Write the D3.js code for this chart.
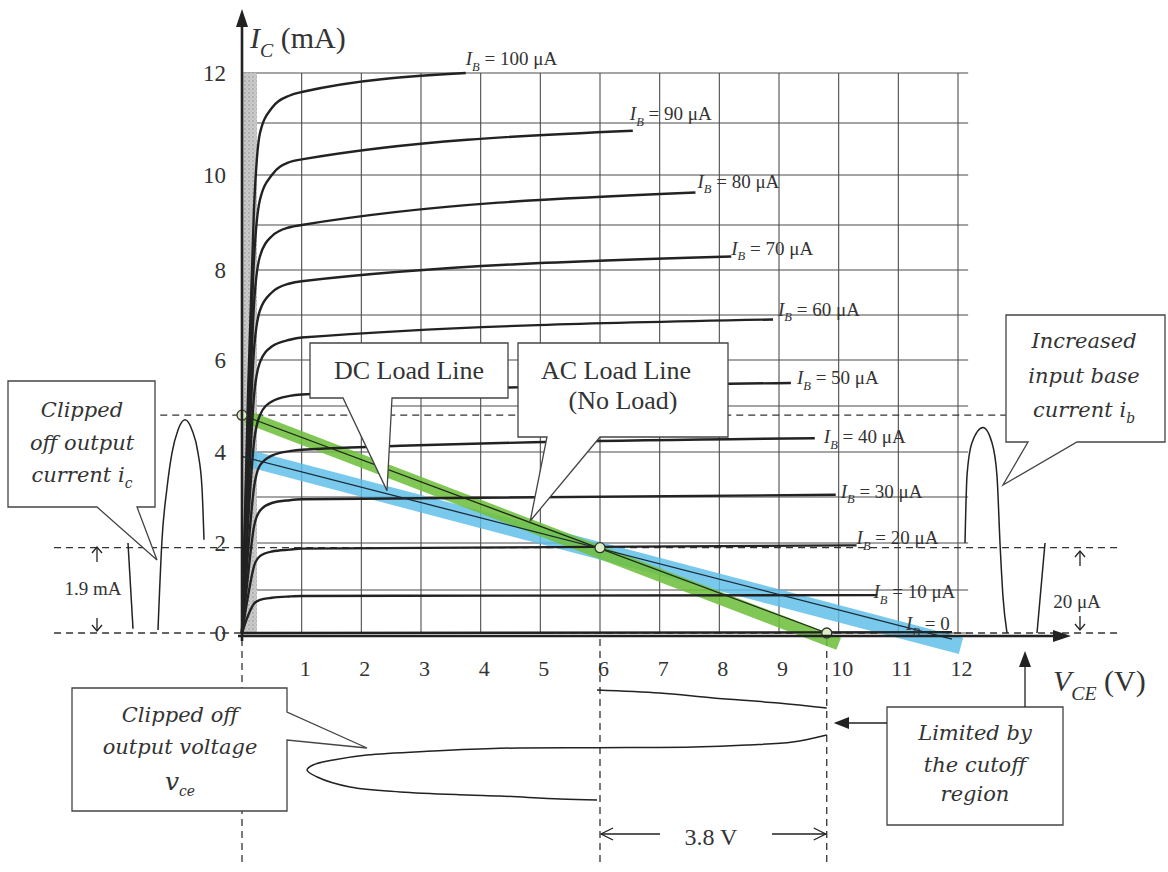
<!DOCTYPE html>
<html>
<head>
<meta charset="utf-8">
<script src="https://cdn.jsdelivr.net/npm/d3@7/dist/d3.min.js"></script>
<style>
  html, body { margin: 0; padding: 0; background: #ffffff; }
  svg { display: block; }
</style>
</head>
<body>
<svg id="chart" width="1168" height="872"></svg>
<script>
// ===== DATA =====
const vceTicks = [1,2,3,4,5,6,7,8,9,10,11,12];
const icTicks  = [0,2,4,6,8,10,12];
const gridVce  = [0,1,2,3,4,5,6,7,8,9,10,11,12];
const gridIc   = [0,1,2,3,4,5,6,7,8,9,10,11,12];

// base-current curves, I_B in µA; points are [V_CE (V), I_C (mA)]
const ibValues = [100,90,80,70,60,50,40,30,20,10,0];
const ib100 = [[0,0],[0.1,5.2],[0.2,9.3],[0.3,10.8],[0.5,11.3],[0.8,11.55],[1,11.62],[3.75,12.0]];
const ib90  = [[0,0],[0.1,4.6],[0.2,8.2],[0.3,9.5],[0.5,10.0],[0.8,10.25],[1,10.3],[6.55,10.85]];
const ib80  = [[0,0],[0.1,4.0],[0.2,7.2],[0.3,8.3],[0.5,8.75],[0.8,8.95],[1,9.0],[7.6,9.65]];
const ib70  = [[0,0],[0.1,3.5],[0.2,6.2],[0.3,7.1],[0.5,7.5],[0.8,7.7],[1,7.75],[8.2,8.3]];
const ib60  = [[0,0],[0.1,2.9],[0.2,5.2],[0.3,5.95],[0.5,6.3],[0.8,6.45],[1,6.5],[8.9,6.9]];
const ib50  = [[0,0],[0.1,2.4],[0.2,4.2],[0.3,4.8],[0.5,5.1],[0.8,5.22],[1,5.25],[9.2,5.5]];
const ib40  = [[0,0],[0.1,1.8],[0.2,3.2],[0.3,3.7],[0.5,3.92],[0.8,4.02],[1,4.05],[9.6,4.3]];
const ib30  = [[0,0],[0.1,1.3],[0.2,2.35],[0.3,2.7],[0.5,2.87],[0.8,2.93],[1,2.95],[9.95,3.05]];
const ib20  = [[0,0],[0.1,0.85],[0.2,1.5],[0.3,1.72],[0.5,1.82],[0.8,1.86],[1,1.88],[10.3,1.95]];
const ib10  = [[0,0],[0.1,0.4],[0.2,0.68],[0.3,0.77],[0.5,0.82],[0.8,0.85],[1,0.86],[10.65,0.88]];
const ib0   = [[0,0],[11.9,0.02]];
const ibCurves = [ib100, ib90, ib80, ib70, ib60, ib50, ib40, ib30, ib20, ib10, ib0];

// load lines [V_CE, I_C]
const satPoint = [0, 4.8];
const qPoint   = [6, 1.9];
const cutPoint = [9.8, 0];
const acLine = [satPoint, cutPoint];           // green, "AC Load Line (No Load)"
const acBand = [[0.08, 4.76], [10.0, -0.25]];
const dcLine = [[0, 3.9], [11.9, -0.14]];      // blue, "DC Load Line"
const dcBand = [[0.08, 3.87], [12.05, -0.3]];
const markers = [satPoint, qPoint, cutPoint];

// waveforms
const icWaveLeg  = [[0,2.0],[5,0.1]];                                   // [time, mA]
const icWaveArch = [[30,0.07],[34,2.07],[39,3.2],[44,3.98],[50,4.48],[57,4.7],[64,4.48],[70,3.98],[74,3.2],[76,2.07]];
const ibWaveArch = [[0,20],[2,34.7],[7,42],[18,45.3],[27,42],[32,34.7],[35,20],[38,8.4],[42,0]]; // [time, µA]
const ibWaveLeg  = [[72,0],[80,20]];
const vceWaveTop = [[5.95,0],[7.0,3],[7.9,8],[8.99,13],[9.8,18]];       // [V, time]
const vceWaveLow = [[9.8,45],[9.23,52],[8.46,55],[7.56,57],[6.72,57.5],[5.95,57.8],[4.32,58.3],[3.2,61],[2.09,65],[1.53,70],[1.19,75],[1.09,80],[1.26,87],[1.81,97],[2.65,102],[3.77,105],[4.32,106],[5.33,109],[5.95,110]];

// annotation values
const clipCurrent = "1.9 mA";
const clipBase = "20 μA";
const swingV = "3.8 V";

// ===== LAYOUT / STYLE =====
const svg = d3.select("#chart");
const INK = "#222", TXT = "#333", GRID = "#4d4d4d";
const SERIF = "'Liberation Serif','Times New Roman',serif";
const ITAL = "'DejaVu Serif',serif";

const x = d3.scaleLinear().domain([0, 12]).range([242, 958]);
const y = d3.scaleLinear().domain(gridIc).range([633,590,543,497,452,406,360,315,270,225,175,123,73]);
const tLeft  = d3.scaleLinear().domain([0, 76]).range([128, 204]);
const tRight = d3.scaleLinear().domain([0, 80]).range([965, 1045]);
const tBot   = d3.scaleLinear().domain([0, 110]).range([690, 800]);

const line = d3.line().x(d => x(d[0])).y(d => y(d[1]));
const smooth = d3.line().x(d => x(d[0])).y(d => y(d[1])).curve(d3.curveMonotoneX);

function rich(sel, px, py, parts, size, family, anchor) {
  const t = sel.append("text").attr("x", px).attr("y", py)
    .attr("font-size", size).attr("font-family", family)
    .attr("text-anchor", anchor || "start").attr("fill", TXT);
  let shift = 0;
  parts.forEach(p => {
    const ts = t.append("tspan").text(p.t);
    if (p.it) ts.attr("font-style", "italic");
    const target = p.sub ? size * 0.3 : 0;
    if (target !== shift) { ts.attr("dy", target - shift); shift = target; }
    if (p.sub) ts.attr("font-size", size * 0.66);
    if (p.size) ts.attr("font-size", p.size);
  });
  return t;
}

// stipple pattern for the saturation strip
const defs = svg.append("defs");
const pat = defs.append("pattern").attr("id", "stip").attr("width", 4).attr("height", 4).attr("patternUnits", "userSpaceOnUse");
pat.append("rect").attr("width", 4).attr("height", 4).attr("fill", "#cacaca");
pat.append("circle").attr("cx", 1).attr("cy", 1).attr("r", 0.8).attr("fill", "#8f8f8f");
pat.append("circle").attr("cx", 3).attr("cy", 3).attr("r", 0.6).attr("fill", "#a8a8a8");

// ----- grid -----
const grid = svg.append("g");
grid.selectAll("line.gh").data(gridIc).join("line").attr("class", "gh")
  .attr("x1", x(0)).attr("x2", x(12.17)).attr("y1", d => y(d)).attr("y2", d => y(d))
  .attr("stroke", GRID).attr("stroke-width", 1.1);
grid.selectAll("line.gv").data(gridVce).join("line").attr("class", "gv")
  .attr("x1", d => x(d)).attr("x2", d => x(d)).attr("y1", y(0)).attr("y2", y(12))
  .attr("stroke", GRID).attr("stroke-width", 1.1);

// saturation strip
svg.append("rect").attr("x", x(0)).attr("y", y(12)).attr("width", x(0.25) - x(0)).attr("height", y(0) - y(12))
  .attr("fill", "url(#stip)");

// ----- dashed reference lines -----
const dash = svg.append("g").attr("stroke", "#333").attr("stroke-width", 1.3).attr("stroke-dasharray", "7,5").attr("fill", "none");
dash.append("line").attr("x1", x(-1.37)).attr("x2", x(12.8)).attr("y1", y(satPoint[1])).attr("y2", y(satPoint[1]));
dash.append("line").attr("x1", x(-3.15)).attr("x2", x(14.75)).attr("y1", y(qPoint[1])).attr("y2", y(qPoint[1]));
dash.append("line").attr("x1", x(-3.15)).attr("x2", x(14.75)).attr("y1", y(0)).attr("y2", y(0));
[0, qPoint[0], cutPoint[0]].forEach(v => {
  dash.append("line").attr("x1", x(v)).attr("x2", x(v)).attr("y1", y(0) + 6).attr("y2", 866);
});

// ----- load line bands -----
svg.append("path").attr("d", line(dcBand)).attr("stroke", "#5bbde9").attr("stroke-width", 17).attr("opacity", 0.82).attr("fill", "none");
svg.append("path").attr("d", line(acBand)).attr("stroke", "#6fbf3d").attr("stroke-width", 13).attr("opacity", 0.88).attr("fill", "none");

// ----- characteristic curves -----
svg.append("g").selectAll("path").data(ibCurves).join("path")
  .attr("d", d => smooth(d)).attr("fill", "none").attr("stroke", INK).attr("stroke-width", 2.4)
  .attr("stroke-linejoin", "round");

// thin load lines
svg.append("path").attr("d", line(dcLine)).attr("stroke", "#1d2b36").attr("stroke-width", 1.3).attr("fill", "none");
svg.append("path").attr("d", line(acLine)).attr("stroke", "#1f2a18").attr("stroke-width", 1.3).attr("fill", "none");

// markers
svg.append("g").selectAll("circle").data(markers).join("circle")
  .attr("cx", d => x(d[0])).attr("cy", d => y(d[1])).attr("r", 5)
  .attr("fill", "#dcefc4").attr("stroke", "#333").attr("stroke-width", 1.3);

// ----- axes -----
svg.append("line").attr("x1", x(0)).attr("x2", x(0)).attr("y1", y(0) + 8).attr("y2", 24).attr("stroke", INK).attr("stroke-width", 2.6);
svg.append("path").attr("d", `M${x(0)},9 L${x(0) - 6},27 L${x(0) + 6},27 Z`).attr("fill", INK);
svg.append("line").attr("x1", x(0) - 4).attr("x2", 1056).attr("y1", y(0) + 3).attr("y2", y(0) + 3).attr("stroke", INK).attr("stroke-width", 2.6);
svg.append("path").attr("d", `M1071,${y(0) + 3} L1053,${y(0) - 3} L1053,${y(0) + 9} Z`).attr("fill", INK);

const ya = svg.append("g").attr("transform", `translate(${x(0)},0)`)
  .call(d3.axisLeft(y).tickValues(icTicks).tickSize(0).tickPadding(16).tickFormat(d3.format("d")));
ya.select(".domain").remove();
ya.selectAll("text").attr("font-family", SERIF).attr("font-size", 23).attr("fill", TXT);

const xa = svg.append("g").attr("transform", `translate(0,${y(0) + 3})`)
  .call(d3.axisBottom(x).tickValues(vceTicks).tickSize(0).tickPadding(24).tickFormat(d3.format("d")));
xa.select(".domain").remove();
xa.selectAll("text").attr("font-family", SERIF).attr("font-size", 22).attr("fill", TXT).attr("dx", 3);

rich(svg, 250, 48, [{t: "I", it: true}, {t: "C", it: true, sub: true}, {t: " (mA)"}], 30, SERIF);
rich(svg, 1053, 691, [{t: "V", it: true}, {t: "CE", it: true, sub: true}, {t: " (V)"}], 30, SERIF);

// ----- curve labels -----
const labelNudge = [[0,-8],[-3,-11],[2,-5],[0,-2],[5,-4],[6,1],[9,5],[5,3],[0,-1],[-4,3],[-46,-2]];
ibCurves.forEach((c, i) => {
  const end = c[c.length - 1];
  const txt = ibValues[i] === 0 ? " = 0" : ` = ${ibValues[i]} μA`;
  rich(svg, x(end[0]) + labelNudge[i][0], y(end[1]) + labelNudge[i][1],
    [{t: "I", it: true}, {t: "B", it: true, sub: true}, {t: txt}], 19, SERIF);
});

// ----- waveforms -----
const wave = svg.append("g").attr("fill", "none").attr("stroke", INK).attr("stroke-width", 1.5);
const lineL = d3.line().x(d => tLeft(d[0])).y(d => y(d[1])).curve(d3.curveMonotoneX);
wave.append("path").attr("d", lineL(icWaveLeg));
wave.append("path").attr("d", lineL(icWaveArch));
const lineR = d3.line().x(d => tRight(d[0])).y(d => y(d[1] / 10)).curve(d3.curveMonotoneX);
wave.append("path").attr("d", lineR(ibWaveArch));
wave.append("path").attr("d", lineR(ibWaveLeg));
const lineB = d3.line().x(d => x(d[0])).y(d => tBot(d[1])).curve(d3.curveCatmullRom);
wave.append("path").attr("d", lineB(vceWaveTop));
wave.append("path").attr("d", lineB(vceWaveLow));

// ----- callouts -----
function lerpOn(seg, v) {
  const t = (v - seg[0][0]) / (seg[1][0] - seg[0][0]);
  return [x(v), y(seg[0][1] + t * (seg[1][1] - seg[0][1]))];
}
const dcTip = lerpOn(dcLine, 2.43); dcTip[1] -= 3;
const acTip = lerpOn(acLine, 4.83); acTip[1] -= 2;
const boxes = [
  [[8,381],[155,381],[155,507],[137,507],[157,560],[97,507],[8,507]],
  [[1006,315],[1165,315],[1165,442],[1077,442],[1003,485],[1028,442],[1006,442]],
  [[310,343],[508,343],[508,398],[392,398],dcTip,[343,398],[310,398]],
  [[518,343],[728,343],[728,437],[600,437],acTip,[547,437],[518,437]],
  [[72,688],[287,688],[287,712],[367,748],[287,740],[287,811],[72,811]],
  [[887,707],[1063,707],[1063,825],[887,825]]
];
svg.append("g").selectAll("path").data(boxes).join("path")
  .attr("d", d => d3.line()(d) + "Z").attr("fill", "#fff").attr("stroke", "#444").attr("stroke-width", 1.3);

// callout texts
const IT = 21;
function itLine(px, py, parts) {
  return rich(svg, px, py, parts.map(p => Object.assign({it: true}, p)), IT, ITAL, "middle");
}
itLine(82, 417, [{t: "Clipped"}]);
itLine(82, 450, [{t: "off output"}]);
itLine(82, 482, [{t: "current i"}, {t: "c", sub: true}]);
itLine(1084, 348, [{t: "Increased"}]);
itLine(1084, 383, [{t: "input base"}]);
itLine(1084, 417, [{t: "current i"}, {t: "b", sub: true}]);
itLine(180, 722, [{t: "Clipped off"}]);
itLine(180, 754, [{t: "output voltage"}]);
rich(svg, 180, 790, [{t: "v", it: true, size: 25}, {t: "ce", it: true, sub: true}], IT, ITAL, "middle");
itLine(975, 740, [{t: "Limited by"}]);
itLine(975, 772, [{t: "the cutoff"}]);
itLine(975, 801, [{t: "region"}]);

rich(svg, 409, 379, [{t: "DC Load Line"}], 26, SERIF, "middle");
rich(svg, 616, 379, [{t: "AC Load Line"}], 26, SERIF, "middle");
rich(svg, 623, 409, [{t: "(No Load)"}], 26, SERIF, "middle");

// ----- dimension annotations -----
const ann = svg.append("g").attr("stroke", INK).attr("stroke-width", 1.3).attr("fill", "none");
function vArrow(px, yTail, yHead) {
  const s = yHead < yTail ? 1 : -1;
  ann.append("line").attr("x1", px).attr("x2", px).attr("y1", yTail).attr("y2", yHead);
  ann.append("path").attr("d", `M${px - 5},${yHead + s * 6} L${px},${yHead} L${px + 5},${yHead + s * 6}`);
}
vArrow(97, 562, 547);
vArrow(97, 618, 631);
vArrow(1080, 566, 551);
vArrow(1080, 616, 630);
rich(svg, 93, 595, [{t: clipCurrent}], 19, SERIF, "middle");
rich(svg, 1077, 608, [{t: clipBase}], 19, SERIF, "middle");

// 3.8 V span
ann.append("line").attr("x1", 660).attr("x2", x(qPoint[0]) + 1).attr("y1", 834).attr("y2", 834);
ann.append("path").attr("d", `M${x(qPoint[0]) + 13},828 L${x(qPoint[0]) + 1},834 L${x(qPoint[0]) + 13},840`);
ann.append("line").attr("x1", 772).attr("x2", x(cutPoint[0]) - 1).attr("y1", 834).attr("y2", 834);
ann.append("path").attr("d", `M${x(cutPoint[0]) - 13},828 L${x(cutPoint[0]) - 1},834 L${x(cutPoint[0]) - 13},840`);
rich(svg, 711, 845, [{t: swingV}], 24, SERIF, "middle");

// arrows from "Limited by the cutoff region"
ann.append("line").attr("x1", 887).attr("x2", 846).attr("y1", 723).attr("y2", 723);
svg.append("path").attr("d", `M${x(cutPoint[0]) + 7},723 L849,717 L849,729 Z`).attr("fill", INK);
ann.append("line").attr("x1", 1025).attr("x2", 1025).attr("y1", 707).attr("y2", 665);
svg.append("path").attr("d", `M1025,651 L1019,667 L1031,667 Z`).attr("fill", INK);
</script>
</body>
</html>
